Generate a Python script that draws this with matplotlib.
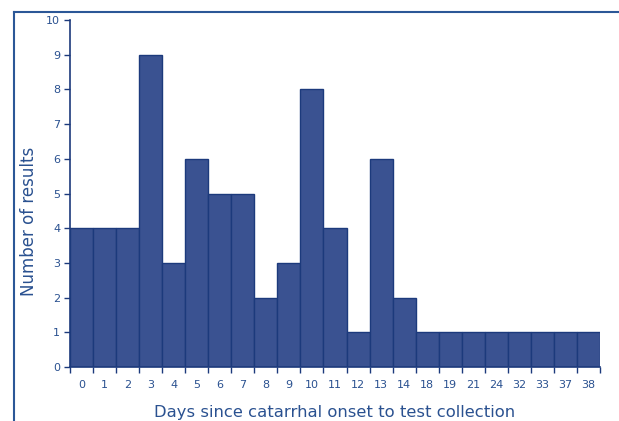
import numpy as np
import matplotlib.pyplot as plt
from matplotlib.lines import Line2D

# days since catarrhal onset and number of results
days = ['0', '1', '2', '3', '4', '5', '6', '7', '8', '9', '10', '11', '12',
        '13', '14', '18', '19', '21', '24', '32', '33', '37', '38']
counts = [4, 4, 4, 9, 3, 6, 5, 5, 2, 3, 8, 4, 1, 6, 2, 1, 1, 1, 1, 1, 1, 1, 1]

bar_color = '#3a5291'
edge_color = '#1c3a7c'
text_color = '#2a5190'

fig = plt.figure(figsize=(6.19, 4.21), dpi=100)
ax = fig.add_axes([70 / 619, 54 / 421, 530 / 619, 347 / 421])

x = np.arange(len(days))
ax.bar(x, counts, width=1.0, align='edge', color=bar_color,
       edgecolor=edge_color, linewidth=1.0)

ax.set_xlim(0, len(days))
ax.set_ylim(0, 10)

# ticks at bar boundaries, labels at bar centres
ax.set_xticks(np.arange(len(days) + 1))
ax.set_xticklabels([])
ax.set_xticks(x + 0.5, minor=True)
ax.set_xticklabels(days, minor=True)
ax.tick_params(axis='x', which='major', direction='out', length=4,
               color=edge_color, width=1)
ax.tick_params(axis='x', which='minor', length=0, pad=9,
               labelsize=8, labelcolor=text_color)
ax.set_yticks(range(0, 11))
ax.tick_params(axis='y', direction='out', length=4, color=edge_color,
               width=1, labelsize=8, labelcolor=text_color, pad=3)

for side in ['top', 'right']:
    ax.spines[side].set_visible(False)
for side in ['left', 'bottom']:
    ax.spines[side].set_color(edge_color)
    ax.spines[side].set_linewidth(1.2)

ax.set_ylabel('Number of results', fontsize=12, color=text_color)
ax.yaxis.set_label_coords(-0.06, 0.42)
ax.set_xlabel('Days since catarrhal onset to test collection', fontsize=11.8,
              color=text_color, labelpad=11)

# outer frame (cut at right and bottom edges)
fx, fy = 13.5 / 619, 1 - 11.5 / 421
fig.add_artist(Line2D([fx, fx], [0, fy], transform=fig.transFigure,
                      color='#2b5797', linewidth=1.5))
fig.add_artist(Line2D([fx, 1], [fy, fy], transform=fig.transFigure,
                      color='#2b5797', linewidth=1.5))

fig.savefig('out.png', dpi=100)
